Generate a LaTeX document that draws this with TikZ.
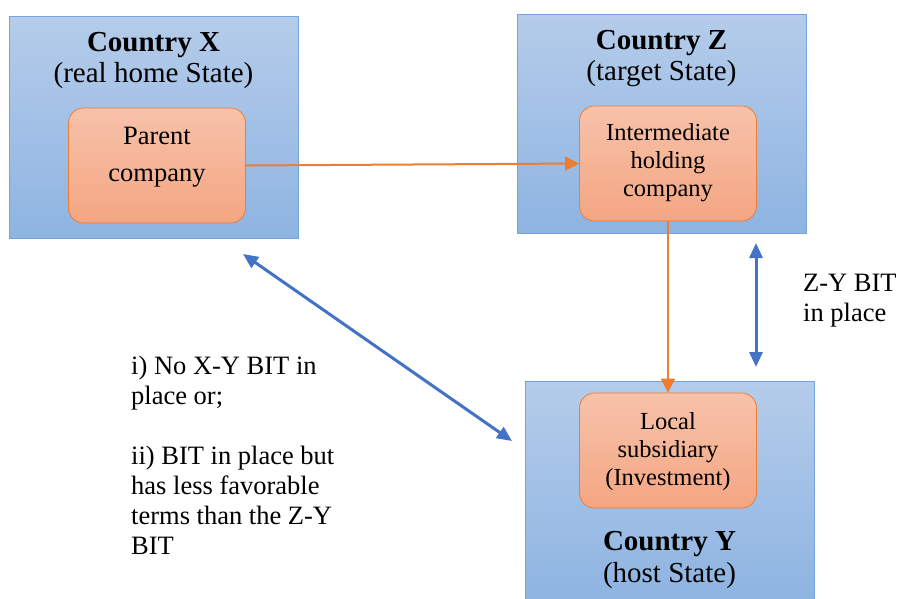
\documentclass[tikz,border=0pt]{standalone}
\usepackage{fontspec}
\setmainfont{Liberation Serif}
\usetikzlibrary{arrows.meta}

\definecolor{countrytop}{RGB}{181,204,234}
\definecolor{countrybot}{RGB}{142,180,226}
\definecolor{countryedge}{RGB}{117,163,220}
\definecolor{firmtop}{RGB}{247,194,170}
\definecolor{firmbot}{RGB}{244,166,130}
\definecolor{firmedge}{RGB}{237,125,49}
\definecolor{bitblue}{RGB}{68,114,196}

\begin{document}
\begin{tikzpicture}[x=1pt,y=-1pt,line cap=round,line join=round,
  country/.style={draw=countryedge,line width=0.8pt,top color=countrytop,bottom color=countrybot,anchor=north west,inner sep=0pt},
  firm/.style={draw=firmedge,line width=0.8pt,rounded corners=15pt,top color=firmtop,bottom color=firmbot,inner sep=0pt,minimum width=177pt,minimum height=115pt},
  title/.style={font=\fontsize{29}{31}\selectfont\bfseries,inner sep=0pt},
  subtitle/.style={font=\fontsize{29}{31}\selectfont,inner sep=0pt},
  firmtext/.style={align=center,inner sep=0pt,font=\fontsize{24.5}{28}\selectfont},
  note/.style={align=left,anchor=north west,inner sep=0pt,font=\fontsize{26.5}{30}\selectfont},
  own/.style={draw=firmedge,line width=2pt,-{Triangle[length=14pt,width=14pt]}},
  bit/.style={draw=bitblue,line width=3pt,{Triangle[length=15pt,width=13pt]}-{Triangle[length=15pt,width=13pt]}}]
\useasboundingbox (0,0) rectangle (898,598);

% the three states
\node[country,minimum width=289pt,minimum height=222pt] (stateX) at (9,16) {};
\node[country,minimum width=289pt,minimum height=219pt] (stateZ) at (517,14) {};
\node[country,minimum width=289pt,minimum height=218pt] (stateY) at (525,381) {};

\node[title] (titleX) at (153.5,45) {Country X};
\node[subtitle] (subX) at (153.5,76) {(real home State)};
\node[title] (titleZ) at (661.5,43) {Country Z};
\node[subtitle] (subZ) at (661.5,74) {(target State)};
\node[title] (titleY) at (669.5,544) {Country Y};
\node[subtitle] (subY) at (669.5,576) {(host State)};

% companies
\node[firm] (parent) at (157,165.5) {};
\node[firmtext,font=\fontsize{26.5}{37}\selectfont] (parenttxt) at ([yshift=8pt]parent.center) {Parent\\company};
\node[firm] (inter) at (668,163.5) {};
\node[firmtext] (intertxt) at ([yshift=1pt]inter.center) {Intermediate\\holding\\company};
\node[firm] (local) at (668,450.5) {};
\node[firmtext] (localtxt) at ([yshift=-1pt]local.center) {Local\\subsidiary\\(Investment)};

% ownership chain
\draw[own] (parent.east) -- (inter.west);
\draw[own] (inter.south) -- (local.north);

% treaties
\coordinate (xyA) at (243,254);
\coordinate (xyB) at (512,441);
\draw[bit] (xyA) -- (xyB);
\coordinate (zyA) at (756,243);
\coordinate (zyB) at (756,367);
\draw[bit] (zyA) -- (zyB);

\node[note] (zynote) at (803,274) {Z-Y BIT\\in place};
\node[note] (xynote) at (131,356) {i) No X-Y BIT in\\place or;\\[30pt]ii) BIT in place but\\has less favorable\\terms than the Z-Y\\BIT};
\end{tikzpicture}
\end{document}
